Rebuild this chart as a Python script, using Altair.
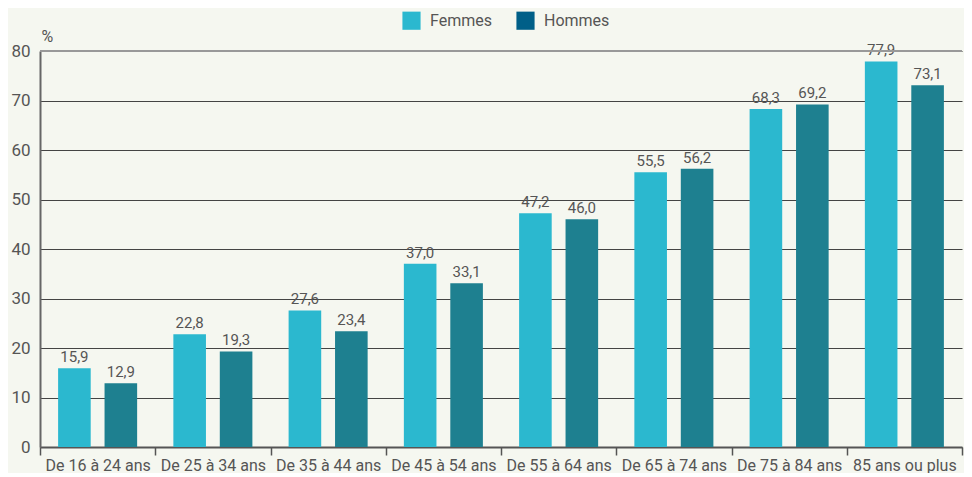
import altair as alt
import pandas as pd

categories = ["De 16 à 24 ans", "De 25 à 34 ans", "De 35 à 44 ans", "De 45 à 54 ans",
              "De 55 à 64 ans", "De 65 à 74 ans", "De 75 à 84 ans", "85 ans ou plus"]
femmes = [15.9, 22.8, 27.6, 37.0, 47.2, 55.5, 68.3, 77.9]
hommes = [12.9, 19.3, 23.4, 33.1, 46.0, 56.2, 69.2, 73.1]
series = ["Femmes", "Hommes"]

rows = []
for c, f, h in zip(categories, femmes, hommes):
    rows.append({"cat": c, "sexe": "Femmes", "v": f})
    rows.append({"cat": c, "sexe": "Hommes", "v": h})
df = pd.DataFrame(rows)

FONT = "Roboto, sans-serif"
TXT = "#555555"

x = alt.X("cat:N", sort=categories, title=None,
          scale=alt.Scale(paddingInner=0, paddingOuter=0),
          axis=alt.Axis(labelAngle=0, labelFontSize=16, labelColor=TXT, labelFont=FONT,
                        tickBand="extent", tickSize=8, tickColor="#555555", tickWidth=1.5,
                        domainColor="#555555", domainWidth=2, labelPadding=2))
xo = alt.XOffset("sexe:N", sort=series,
                 scale=alt.Scale(paddingInner=0.298, paddingOuter=0.39))
y = alt.Y("v:Q", title="%",
          scale=alt.Scale(domain=[0, 80], nice=False),
          axis=alt.Axis(values=list(range(0, 90, 10)), labelFontSize=17, labelColor=TXT,
                        labelFont=FONT, ticks=False, labelPadding=10,
                        grid=True, gridColor="#444444", gridWidth=1,
                        domainColor="#666666", domainWidth=2,
                        titleAngle=0, titleAlign="left", titleBaseline="bottom",
                        titleX=1, titleY=-7, titleFontSize=16, titleFontWeight="normal",
                        titleColor=TXT, titleFont=FONT))

color_bars = alt.Color("sexe:N", sort=series,
                       scale=alt.Scale(domain=series, range=["#2bb8cf", "#1e8090"]),
                       legend=None)
color_leg = alt.Color("sexe:N", sort=series,
                      scale=alt.Scale(domain=series, range=["#2bb8cf", "#005f88"]),
                      legend=alt.Legend(title=None, orient="none", direction="horizontal",
                                        legendX=362, legendY=-40,
                                        symbolType="square", symbolSize=330, symbolStrokeWidth=0,
                                        symbolOpacity=1,
                                        labelFontSize=16, labelColor=TXT, labelFont=FONT,
                                        columnPadding=24, labelOffset=9))

base = alt.Chart(df).encode(x=x, xOffset=xo)

bars = base.mark_bar().encode(y=y, color=color_bars)

legend_layer = base.mark_square(opacity=0, size=1).encode(y=alt.Y("v:Q"), color=color_leg)

labels = base.transform_calculate(
    lab="replace(format(datum.v, '.1f'), '.', ',')"
).mark_text(dy=-11, fontSize=15, color=TXT, font=FONT).encode(
    y=alt.Y("v:Q"), text="lab:N")

top = alt.Chart(pd.DataFrame({"v": [80]})).mark_rule(color="#999999", strokeWidth=2).encode(
    y=alt.Y("v:Q"))

chart = alt.layer(bars, legend_layer, labels, top).resolve_scale(color="independent").properties(
    width=922, height=396,
    background="#f5f7f0",
    padding={"left": 32, "top": 43, "right": 2, "bottom": 26},
    autosize=alt.AutoSizeParams(type="none"),
).configure_view(stroke=None)

chart.save("out.html", embed_options={"renderer": "svg", "actions": False})
